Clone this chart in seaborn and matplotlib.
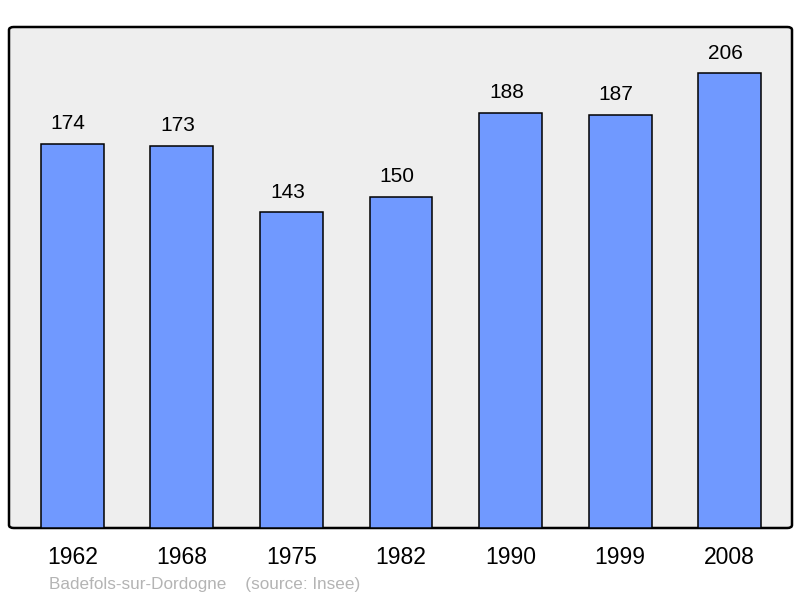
import seaborn as sns
import pandas as pd
import matplotlib.pyplot as plt
from matplotlib.patches import FancyBboxPatch

years = ["1962", "1968", "1975", "1982", "1990", "1999", "2008"]
population = [174, 173, 143, 150, 188, 187, 206]

df = pd.DataFrame({"year": years, "pop": population})

sns.set_style("white")
plt.rcParams["font.family"] = ["Liberation Sans", "DejaVu Sans"]

fig = plt.figure(figsize=(8, 5.98), dpi=100)
ax = fig.add_axes([9 / 800, 70 / 598, 783 / 800, 501 / 598])
ax.set_facecolor("none")

# rounded grey frame behind the bars
frame = FancyBboxPatch((0, 0), 1, 1, boxstyle="round,pad=0,rounding_size=0.006",
                       transform=ax.transAxes, facecolor="#eeeeee",
                       edgecolor="black", linewidth=1.8, clip_on=False, zorder=0)
ax.add_patch(frame)

sns.barplot(data=df, x="year", y="pop", color="#7099ff", saturation=1,
            width=0.573, edgecolor="black", linewidth=1.1, ax=ax, zorder=2)

for i, v in enumerate(population):
    ax.text(i - 0.036, v + 9.2, str(v), ha="center", va="center",
            fontsize=15, color="black")

ax.set_xlim(-0.577, 6.568)
ax.set_ylim(0, 227)
ax.set_yticks([])
ax.set_xlabel("")
ax.set_ylabel("")
for s in ax.spines.values():
    s.set_visible(False)
ax.tick_params(axis="x", length=0, pad=13, labelsize=16.5, labelcolor="black")

fig.text(49 / 800, 1 - 585 / 598, "Badefols-sur-Dordogne    (source: Insee)",
         color="#b4b4b4", fontsize=12.3, va="center", ha="left")

plt.savefig("out.png", dpi=100, facecolor="w")
